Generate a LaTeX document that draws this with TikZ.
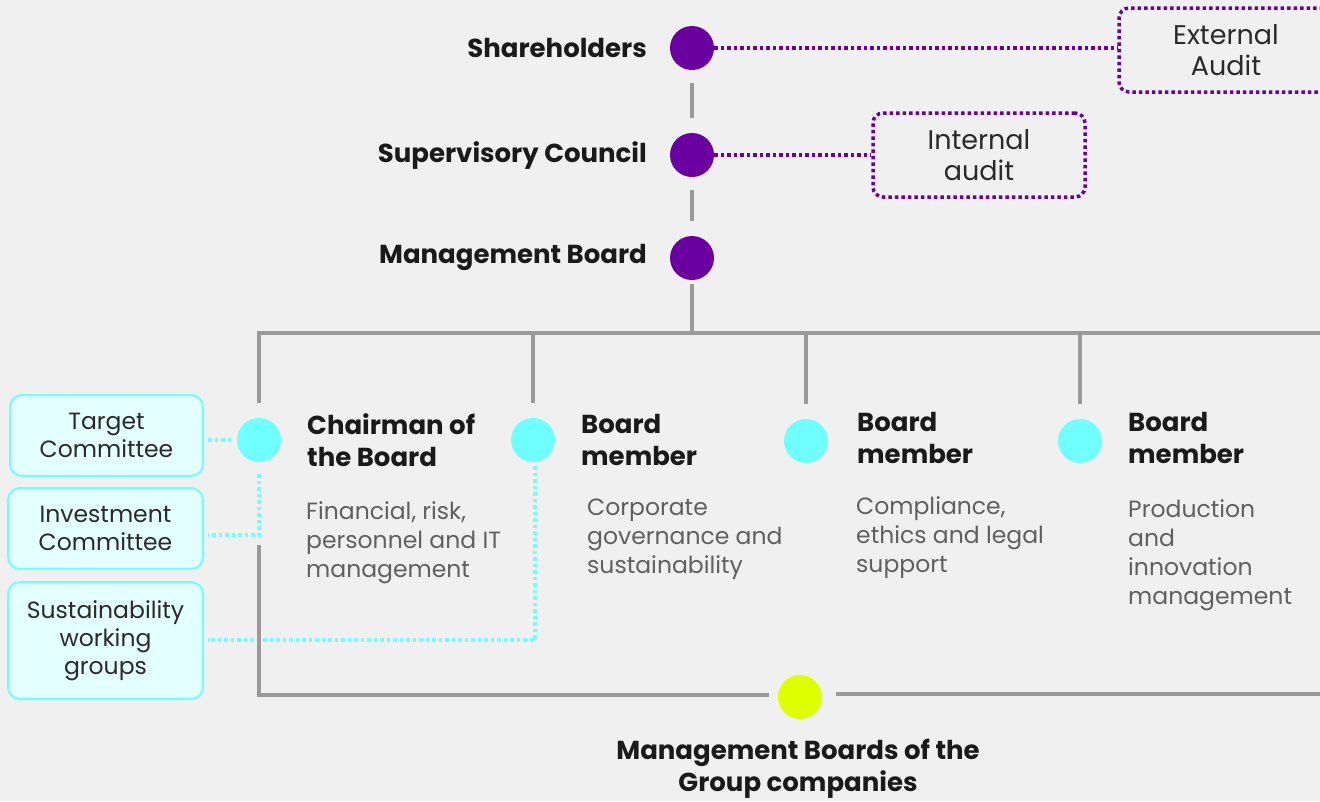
\documentclass[tikz,border=0pt]{standalone}
\usepackage{fontspec}
\setmainfont{Poppins}
\definecolor{bg}{HTML}{F0F0F0}
\definecolor{pur}{HTML}{6A00A0}
\definecolor{cya}{HTML}{70FFFF}
\definecolor{lcya}{HTML}{E4FFFF}
\definecolor{yel}{HTML}{DDFF00}
\definecolor{gln}{HTML}{9A9A9A}
\definecolor{tdark}{HTML}{1A1A1A}
\definecolor{tgray}{HTML}{606060}
\definecolor{tbox}{HTML}{2A2A2A}
\begin{document}
\begin{tikzpicture}[x=1pt,y=-1pt,
  pdot/.style={circle,fill=pur,minimum size=44pt,inner sep=0pt},
  cdot/.style={circle,fill=cya,minimum size=44pt,inner sep=0pt},
  ydot/.style={circle,fill=yel,minimum size=44pt,inner sep=0pt},
  lab/.style={font=\fontsize{26}{32}\selectfont\bfseries,text=tdark,inner sep=0pt},
  desc/.style={font=\fontsize{23.5}{29}\selectfont,text=tgray,inner sep=0pt,align=left,anchor=north west},
  grayline/.style={draw=gln,line width=3.5pt},
  pline/.style={draw=pur,line width=3.5pt,dash pattern=on 3.5pt off 3pt},
  cline/.style={draw=cya,line width=3.5pt,dash pattern=on 3.5pt off 3pt},
  pbox/.style={draw=pur,line width=3.5pt,dash pattern=on 3.5pt off 3pt,rounded corners=10pt,fill=bg,align=center,text=tbox,font=\fontsize{27}{31}\selectfont,inner sep=0pt},
  cbox/.style={draw=cya,line width=2pt,rounded corners=12pt,fill=lcya,align=center,text=tbox,font=\fontsize{23.5}{28}\selectfont,inner sep=0pt},
]
\useasboundingbox (0,0) rectangle (1320,801);
\fill[bg] (0,0) rectangle (1320,801);

% top chain
\node[pdot] (sh) at (692,48) {};
\node[pdot] (sc) at (692,155) {};
\node[pdot] (mb) at (692,258) {};
\node[lab,anchor=east] (shl) at (647,48) {Shareholders};
\node[lab,anchor=east] (scl) at (647,156) {Supervisory Council};
\node[lab,anchor=east] (mbl) at (647,257) {Management Board};

\draw[grayline] ([yshift=-13pt]sh.south) -- ([yshift=15pt]sc.north);
\draw[grayline] ([yshift=-13pt]sc.south) -- ([yshift=15pt]mb.north);

% audit boxes
\node[pbox,minimum width=214pt,minimum height=84pt] (ext) at (1226,50) {External\\Audit};
\node[pbox,minimum width=212pt,minimum height=84pt] (int) at (979,155) {Internal\\audit};
\draw[pline] (sh.east) -- (ext.west |- sh);
\draw[pline] (sc.east) -- (int.west |- sc);

% horizontal bus
\coordinate (hl) at (259,333);
\coordinate (hr) at (1322,333);
\draw[grayline] ([yshift=-4pt]mb.south) -- (mb |- hl);
\draw[grayline,line cap=rect] (hl) -- (hr);

% board members
\node[cdot] (c1) at (259,440) {};
\node[cdot] (c2) at (533,440) {};
\node[cdot] (c3) at (806,441) {};
\node[cdot] (c4) at (1080,441) {};
\foreach \c in {c1,c2,c3,c4}{
  \draw[grayline] (\c |- hl) -- ([yshift=15pt]\c.north);
}

\node[lab,align=left,anchor=north west] (t1) at (307,413) {Chairman of\\the Board};
\node[lab,align=left,anchor=north west] (t2) at (581,414) {Board\\member};
\node[lab,align=left,anchor=north west] (t3) at (857,412) {Board\\member};
\node[lab,align=left,anchor=north west] (t4) at (1128,412) {Board\\member};

\node[desc] (d1) at (306,501) {Financial, risk,\\personnel and IT\\management};
\node[desc] (d2) at (587,499) {Corporate\\governance and\\sustainability};
\node[desc] (d3) at (856,496) {Compliance,\\ethics and legal\\support};
\node[desc] (d4) at (1128,499) {Production\\and\\innovation\\management};

% committees
\node[cbox,minimum width=193pt,minimum height=81pt] (tc) at (106.5,435.5) {Target\\Committee};
\node[cbox,minimum width=195pt,minimum height=81pt] (ic) at (105.5,528.5) {Investment\\Committee};
\node[cbox,minimum width=195pt,minimum height=117pt] (sw) at (105.5,640.5) {Sustainability\\working\\groups};

\coordinate (k1) at (259,535);
\coordinate (k2) at (535,640);
\draw[cline] ([xshift=4pt]tc.east |- c1) -- ([xshift=-4pt]c1.west);
\draw[cline] ([yshift=-12pt]c1.south) -- (k1) -- ([xshift=4pt]ic.east |- k1);
\draw[cline] ([xshift=2pt,yshift=-4pt]c2.south) -- (k2) -- ([xshift=4pt]sw.east |- k2);

% group companies
\node[ydot] (yd) at (800,697) {};
\coordinate (g0) at (259,545);
\coordinate (g1) at (259,695);
\coordinate (g2) at (1322,694);
\draw[grayline] (g0) -- (g1) -- ([xshift=-9pt]yd.west |- g1);
\draw[grayline] ([xshift=14pt]yd.east |- g2) -- (g2);
\node[lab,align=center,anchor=north] (gl) at (798,739) {Management Boards of the\\Group companies};
\end{tikzpicture}
\end{document}
